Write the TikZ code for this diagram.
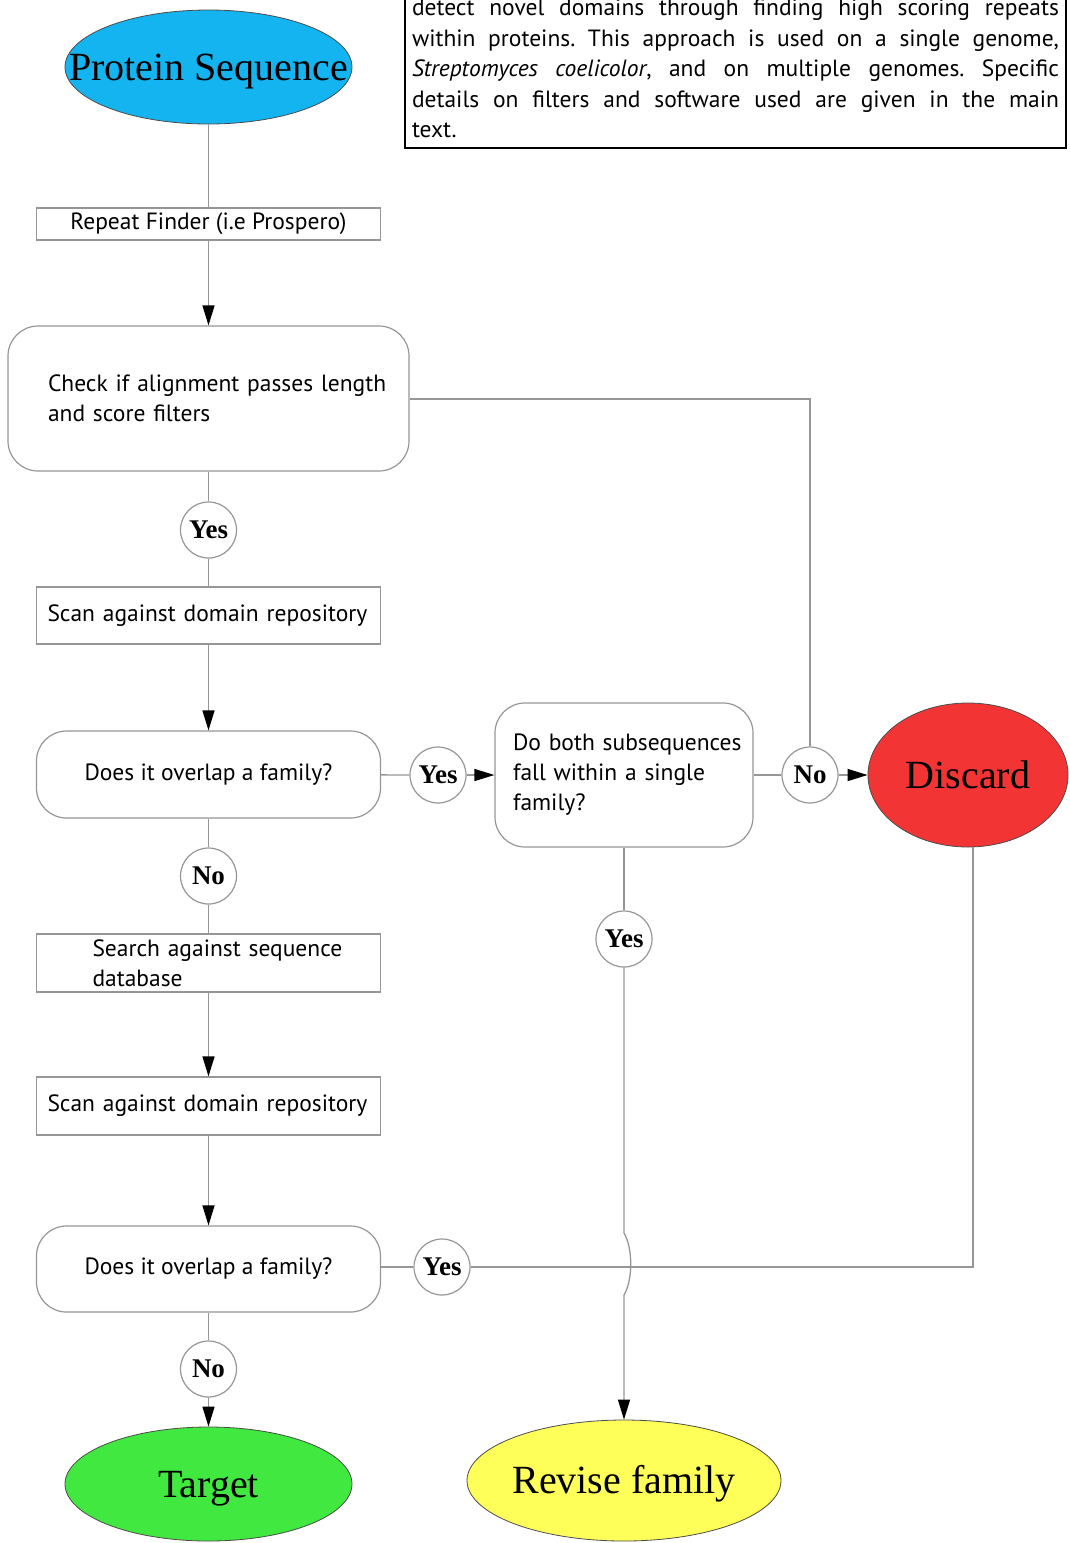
\documentclass[tikz,border=0pt]{standalone}
\usepackage{fontspec}
\setmainfont{Liberation Serif}
\newfontfamily\boxfont{PT Sans}
\usetikzlibrary{shapes.geometric,arrows.meta}

\definecolor{wire}{RGB}{150,150,150}
\definecolor{seqblue}{RGB}{20,180,240}
\definecolor{discardred}{RGB}{242,52,52}
\definecolor{targetgreen}{RGB}{64,232,64}
\definecolor{reviseyellow}{RGB}{255,255,90}

% one fully justified line of the caption
\newcommand{\justline}[1]{\leavevmode\hbox to 647pt{\frenchspacing\spaceskip=0.25em plus 1fil\relax #1}}

\tikzset{
  wirestyle/.style={draw=wire, line width=1.3pt},
  arrowwire/.style={wirestyle, -{Triangle[length=20pt,width=12pt,color=black,fill=black]}},
  plainbox/.style={draw=wire, line width=1.2pt, fill=white, rectangle, inner xsep=0pt, inner ysep=0pt,
    minimum width=344pt, font=\boxfont\fontsize{23.5}{30}\selectfont},
  roundbox/.style={plainbox, rounded corners=30pt},
  answer/.style={draw=wire, line width=1.2pt, fill=white, circle, inner sep=0pt, minimum size=56pt,
    font=\bfseries\fontsize{27}{30}\selectfont},
  terminal/.style={ellipse, draw=black!70, line width=0.8pt, inner sep=0pt, text depth=0pt,
    font=\fontsize{40}{44}\selectfont},
}

\begin{document}
\begin{tikzpicture}[x=1pt, y=-1pt]
\useasboundingbox (0,0) rectangle (1069,1543);
\clip (0,0) rectangle (1069,1543);

% caption box at the top right, cut by the page edge
\node[draw=black, line width=2pt, fill=white, anchor=south, inner xsep=7pt, inner ysep=10pt,
      text width=647pt, align=left, font=\boxfont\fontsize{23.5}{30.5}\selectfont]
  (note) at (735.5,149)
  {\justline{detect novel domains through finding high scoring repeats}\\
   \justline{within proteins. This approach is used on a single genome,}\\
   \justline{\textit{Streptomyces coelicolor}, and on multiple genomes. Specific}\\
   \justline{details on filters and software used are given in the main}\\
   text.};

% terminals
\node[terminal, fill=seqblue, minimum width=287pt, minimum height=114pt] (ps) at (208.5,67) {\makebox[0pt]{Protein Sequence}};
\node[terminal, fill=discardred, minimum width=200pt, minimum height=144pt] (discard) at (968,775) {\makebox[0pt]{Discard}};
\node[terminal, fill=targetgreen, minimum width=287pt, minimum height=114pt] (target) at (208.5,1484) {\makebox[0pt]{Target}};
\node[terminal, fill=reviseyellow, minimum width=314pt, minimum height=121pt] (revise) at (624,1480.5) {\makebox[0pt]{\raisebox{2pt}{Revise family}}};

% process steps
\node[plainbox, minimum height=32pt, align=center] (rf) at (208.5,224) {Repeat Finder (i.e Prospero)};
\node[roundbox, minimum width=401pt, minimum height=145pt, text width=321pt, align=left] (chk) at (208.5,398.5)
  {\mbox{Check if alignment passes length}\\\mbox{and score filters}};
\node[plainbox, minimum height=57pt, text width=322pt, align=left] (scan1) at (208.5,615.5)
  {\mbox{Scan against domain repository}};
\node[roundbox, minimum height=87pt, align=center] (ov1) at (208.5,774.5) {Does it overlap a family?};
\node[roundbox, minimum width=258pt, minimum height=144pt, text width=222pt, align=left] (both) at (624,775)
  {\mbox{Do both subsequences}\\\mbox{fall within a single}\\\mbox{family?}};
\node[plainbox, minimum height=58pt, text width=232pt, align=left] (search) at (208.5,963)
  {\mbox{Search against sequence}\\\mbox{database}};
\node[plainbox, minimum height=58pt, text width=322pt, align=left] (scan2) at (208.5,1106)
  {\mbox{Scan against domain repository}};
\node[roundbox, minimum height=86pt, align=center] (ov2) at (208.5,1269) {Does it overlap a family?};

% yes / no answers
\node[answer] (yes1) at (208.5,530) {Yes};
\node[answer] (yes2) at (438,775) {Yes};
\node[answer] (no1) at (810,775) {No};
\node[answer] (no2) at (208.5,876) {No};
\node[answer] (yes3) at (624,939) {Yes};
\node[answer] (yes4) at (442,1267) {Yes};
\node[answer] (no3) at (208.5,1369) {No};

% corner points of the long connectors
\coordinate (filtcorner) at (810,399);
\coordinate (ovcorner) at (973,1267);
\coordinate (hopin) at (624,1233);
\coordinate (hopout) at (624,1295);

% connectors
\draw[wirestyle] (ps) -- (rf);
\draw[arrowwire] (rf) -- (chk);
\draw[wirestyle] (chk.east |- filtcorner) -- (filtcorner) -- (no1);
\draw[wirestyle] (chk) -- (yes1);
\draw[wirestyle] (yes1) -- (scan1);
\draw[arrowwire] (scan1) -- (ov1);
\draw[wirestyle] (ov1) -- (yes2);
\draw[arrowwire] (yes2) -- (both);
\draw[wirestyle] (both) -- (no1);
\draw[arrowwire] (no1) -- (discard);
\draw[wirestyle] (ov1) -- (no2);
\draw[wirestyle] (no2) -- (search);
\draw[arrowwire] (search) -- (scan2);
\draw[arrowwire] (scan2) -- (ov2);
\draw[wirestyle] (ov2.east |- yes4) -- (yes4);
\draw[wirestyle] (yes4) -- (ovcorner) -- (ovcorner |- discard.south);
\draw[wirestyle] (both) -- (yes3);
\draw[arrowwire] (yes3) -- (hopin) .. controls (633,1248) and (633,1280) .. (hopout) -- (revise);
\draw[wirestyle] (ov2) -- (no3);
\draw[arrowwire] (no3) -- (target);
\end{tikzpicture}
\end{document}
